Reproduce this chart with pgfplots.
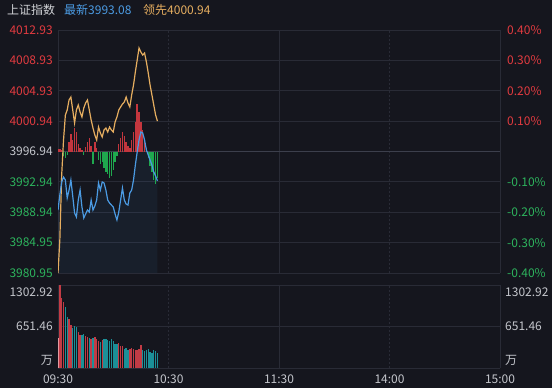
\documentclass[border=0pt]{standalone}
\usepackage{fontspec}
\setmainfont{Noto Sans CJK SC}
\usepackage{pgfplots}
\pgfplotsset{compat=1.18}
\usepackage{pgfplotstable}

\definecolor{bg}{HTML}{15161E}
\definecolor{gridc}{HTML}{292B36}
\definecolor{midc}{HTML}{3C3F4C}
\definecolor{upred}{HTML}{E23B40}
\definecolor{dngreen}{HTML}{2DB35D}
\definecolor{txtgray}{HTML}{C4C6CC}
\definecolor{hdrgray}{HTML}{D0D2D6}
\definecolor{lineblue}{HTML}{4B9BE3}
\definecolor{linegold}{HTML}{E6AE60}
\definecolor{barred}{HTML}{C4363E}
\definecolor{bargreen}{HTML}{1FA84E}
\definecolor{volred}{HTML}{C23B45}
\definecolor{volteal}{HTML}{1B9098}
\definecolor{volpink}{HTML}{E39AA2}

\newcommand{\fs}{\fontsize{12bp}{14bp}\selectfont}

% minute since 09:30, index price (latest)
\pgfplotstableread{
m p
0 3989.24
1 3991.22
2 3992.93
3 3993.58
4 3993.19
5 3990.82
6 3991.87
7 3993.19
8 3991.08
9 3988.85
10 3988.32
11 3990.56
12 3991.87
13 3989.64
14 3988.19
15 3988.72
16 3989.24
17 3988.98
18 3990.56
19 3989.24
20 3989.77
21 3990.56
22 3992.80
23 3991.87
24 3992.93
25 3992.80
26 3991.87
27 3990.56
28 3990.16
29 3989.90
30 3989.64
31 3988.72
32 3987.93
33 3988.98
34 3990.56
35 3992.14
36 3990.56
37 3990.03
38 3989.90
39 3991.48
40 3991.87
41 3993.19
42 3995.16
43 3996.87
44 3998.45
45 3999.51
46 3999.38
47 3998.45
48 3997.14
49 3996.48
50 3995.82
51 3995.16
52 3994.24
53 3993.72
54 3993.08
}\latest

% leading index
\pgfplotstableread{
m p
0 3980.95
1 3985.29
2 3993.85
3 3998.45
4 4001.74
5 4002.40
6 4003.72
7 4004.11
8 4002.40
9 4000.69
10 4002.40
11 4003.06
12 4002.14
13 4001.48
14 4002.67
15 4003.32
16 4003.72
17 4002.40
18 4001.09
19 4000.03
20 3999.11
21 3998.45
22 4000.16
23 3999.38
24 3998.85
25 3999.77
26 4000.03
27 3999.51
28 4000.16
29 3999.77
30 3999.51
31 4000.82
32 4001.48
33 4002.40
34 4002.80
35 4003.19
36 4003.45
37 4004.11
38 4003.32
39 4002.80
40 4004.38
41 4005.69
42 4007.40
43 4008.98
44 4010.56
45 4010.03
46 4009.64
47 4009.90
48 4008.72
49 4007.27
50 4005.69
51 4004.38
52 4003.06
53 4001.74
54 4000.94
}\leading

\pgfplotsset{
  panel/.style={scale only axis, width=442bp, xmin=0, xmax=240,
    axis line style={draw=none}, major tick length=0pt, tick style={draw=none}},
}

\begin{document}
\begin{tikzpicture}
\path[use as bounding box, fill=bg] (-58bp,30bp) rectangle (494bp,-358bp);

% header
\node[anchor=west, inner sep=0pt, font=\fs, text=hdrgray] at (-51bp,20bp) {上证指数};
\node[anchor=west, inner sep=0pt, font=\fs, text=lineblue] at (6bp,20bp) {最新3993.08};
\node[anchor=west, inner sep=0pt, font=\fs, text=linegold] at (85bp,20bp) {领先4000.94};

% price panel: grid, labels, area
\begin{axis}[panel, at={(0,0)}, anchor=north west, height=243bp,
  ymin=3980.95, ymax=4012.93,
  grid=major, major grid style={gridc, line width=0.8bp},
  xtick={0,120,240}, xticklabels={},
  extra x ticks={60,180}, extra x tick labels={},
  extra x tick style={grid=major, major grid style={gridc, line width=0.8bp, dash pattern=on 2bp off 2bp}},
  ytick={3980.95,3984.95,3988.94,3992.94,4000.94,4004.93,4008.93,4012.93},
  yticklabels={{\color{dngreen}3980.95},{\color{dngreen}3984.95},{\color{dngreen}3988.94},{\color{dngreen}3992.94},{\color{upred}4000.94},{\color{upred}4004.93},{\color{upred}4008.93},{\color{upred}4012.93}},
  extra y ticks={3996.94}, extra y tick labels={{\color{txtgray}3996.94}},
  extra y tick style={grid=major, major grid style={midc, line width=1.3bp}},
  yticklabel style={font=\fs, anchor=east, inner sep=0pt, xshift=-5bp},
]
\addplot[draw=none, fill=lineblue, fill opacity=0.07] coordinates {
 (0,3980.95) (0,3989.24) (1,3991.22) (2,3992.93) (3,3993.58) (4,3993.19) (5,3990.82) (6,3991.87) (7,3993.19) (8,3991.08) (9,3988.85) (10,3988.32) (11,3990.56) (12,3991.87) (13,3989.64) (14,3988.19) (15,3988.72) (16,3989.24) (17,3988.98) (18,3990.56) (19,3989.24) (20,3989.77) (21,3990.56) (22,3992.80) (23,3991.87) (24,3992.93) (25,3992.80) (26,3991.87) (27,3990.56) (28,3990.16) (29,3989.90) (30,3989.64) (31,3988.72) (32,3987.93) (33,3988.98) (34,3990.56) (35,3992.14) (36,3990.56) (37,3990.03) (38,3989.90) (39,3991.48) (40,3991.87) (41,3993.19) (42,3995.16) (43,3996.87) (44,3998.45) (45,3999.51) (46,3999.38) (47,3998.45) (48,3997.14) (49,3996.48) (50,3995.82) (51,3995.16) (52,3994.24) (53,3993.72) (54,3993.08) (54,3980.95)};
\end{axis}

% right percentage labels
\begin{axis}[panel, at={(0,0)}, anchor=north west, height=243bp,
  ymin=-0.4, ymax=0.4, hide x axis, axis y line*=right,
  ytick={-0.4,-0.3,-0.2,-0.1,0.1,0.2,0.3,0.4},
  yticklabels={{\color{dngreen}-0.40\%},{\color{dngreen}-0.30\%},{\color{dngreen}-0.20\%},{\color{dngreen}-0.10\%},{\color{upred}0.10\%},{\color{upred}0.20\%},{\color{upred}0.30\%},{\color{upred}0.40\%}},
  yticklabel style={font=\fs, anchor=west, inner sep=0pt, xshift=7bp},
]
\end{axis}

% buying / selling power bars around previous close
\begin{axis}[panel, at={(0,0)}, anchor=north west, height=243bp,
  ymin=-121.5, ymax=121.5, hide axis]
\addplot[ycomb, barred, line width=1.4bp, mark=none] coordinates {
 (0,3) (1,3) (2,2) (6,10) (7,18) (8,12) (9,24) (10,20) (11,8) (12,4) (13,2) (15,5) (16,10) (17,14) (18,6) (20,10) (21,4) (33,8) (34,14) (35,20) (36,16) (37,10) (38,6) (39,4) (40,12) (41,20) (42,30) (43,48) (44,40) (45,30) (46,22) (47,12) (48,4)};
\addplot[ycomb, bargreen, line width=1.4bp, mark=none] coordinates {
 (3,-4) (4,-6) (5,-3) (14,-3) (19,-12) (22,-8) (23,-12) (24,-10) (25,-16) (26,-20) (27,-22) (28,-26) (29,-24) (30,-18) (31,-10) (32,-4) (49,-6) (50,-14) (51,-20) (52,-28) (53,-32) (54,-26)};
\end{axis}

% price lines
\begin{axis}[panel, at={(0,0)}, anchor=north west, height=243bp,
  ymin=3980.95, ymax=4012.93, hide axis]
\addplot[linegold, line width=1.2bp, mark=none] table[x=m, y=p] {\leading};
\addplot[lineblue, line width=1.2bp, mark=none] table[x=m, y=p] {\latest};
\end{axis}

% volume panel
\begin{axis}[panel, name=vol, at={(0,-255bp)}, anchor=north west, height=83bp,
  ymin=0, ymax=1302.92,
  grid=major, major grid style={gridc, line width=0.8bp},
  ytick={0,651.46,1302.92}, yticklabels={},
  xtick={0,120,240}, xticklabels={09:30,11:30,15:00},
  extra x ticks={60,180}, extra x tick labels={10:30,14:00},
  extra x tick style={grid=major, major grid style={gridc, line width=0.8bp, dash pattern=on 2bp off 2bp}},
  xticklabel style={font=\fs, text=txtgray, anchor=north, inner sep=0pt, yshift=-7bp},
]
\addplot[ycomb, volpink, line width=1.4bp, mark=none] coordinates {(0,470)};
\addplot[ycomb, volred, line width=1.4bp, mark=none] coordinates {
 (1,1302.92) (2,1100) (3,1040) (6,770) (7,680) (11,560) (12,520) (15,500) (16,480) (18,450) (20,480) (21,450) (22,420) (24,440) (33,390) (34,350) (35,340) (39,300) (40,310) (41,300) (42,290) (43,280) (44,300) (45,360)};
\addplot[ycomb, volteal, line width=1.4bp, mark=none] coordinates {
 (4,950) (5,800) (8,630) (9,660) (10,640) (13,520) (14,540) (17,470) (19,470) (23,410) (25,460) (26,450) (27,440) (28,430) (29,450) (30,420) (31,380) (32,370) (36,300) (37,320) (38,290) (46,290) (47,270) (48,280) (49,300) (50,250) (51,240) (52,280) (53,260) (54,240)};
\end{axis}

% volume labels
\node[anchor=east, inner sep=0pt, font=\fs, text=txtgray] at ([xshift=-5bp, yshift=-7bp]vol.north west) {1302.92};
\node[anchor=east, inner sep=0pt, font=\fs, text=txtgray] at ([xshift=-5bp]vol.west) {651.46};
\node[anchor=east, inner sep=0pt, font=\fs, text=txtgray] at ([xshift=-5bp, yshift=8bp]vol.south west) {万};
\node[anchor=west, inner sep=0pt, font=\fs, text=txtgray] at ([xshift=5bp, yshift=-7bp]vol.north east) {1302.92};
\node[anchor=west, inner sep=0pt, font=\fs, text=txtgray] at ([xshift=5bp]vol.east) {651.46};
\node[anchor=west, inner sep=0pt, font=\fs, text=txtgray] at ([xshift=5bp, yshift=8bp]vol.south east) {万};
\end{tikzpicture}
\end{document}
